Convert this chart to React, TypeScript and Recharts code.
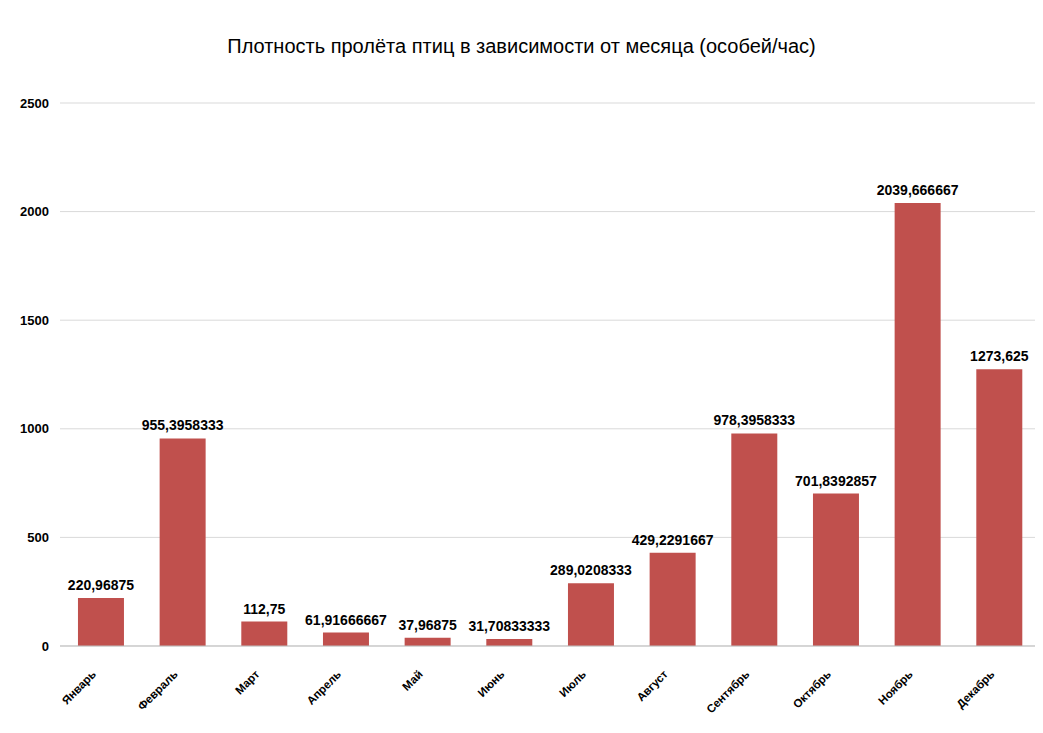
import { BarChart, Bar, XAxis, YAxis, CartesianGrid, LabelList } from "recharts";

const months = [
  "Январь",
  "Февраль",
  "Март",
  "Апрель",
  "Май",
  "Июнь",
  "Июль",
  "Август",
  "Сентябрь",
  "Октябрь",
  "Ноябрь",
  "Декабрь",
];

const density = [
  220.96875, 955.3958333, 112.75, 61.91666667, 37.96875, 31.70833333,
  289.0208333, 429.2291667, 978.3958333, 701.8392857, 2039.666667, 1273.625,
];

const yTicks = [0, 500, 1000, 1500, 2000, 2500];

const data = months.map((m, i) => ({ month: m, value: density[i] }));

const font = "'Liberation Sans', 'DejaVu Sans', sans-serif";
const barColor = "#C0504D";

function MonthTick({ x, y, payload }: any) {
  return (
    <g transform={`translate(${x - 4},${y + 21})`}>
      <text
        textAnchor="end"
        transform="rotate(-45)"
        fontSize={11.5}
        fontWeight="bold"
        fontFamily={font}
        fill="#000"
      >
        {payload.value}
      </text>
    </g>
  );
}

export default function App() {
  return (
    <div
      style={{
        position: "relative",
        margin: -8,
        width: 1043,
        height: 733,
        background: "#fff",
        overflow: "hidden",
      }}
    >
      <div
        style={{
          position: "absolute",
          left: 6,
          top: 3,
          width: 1060,
          height: 760,
          border: "1px solid #D9D9D9",
        }}
      />
      <div
        style={{
          position: "absolute",
          left: 0,
          top: 35,
          width: 1043,
          textAlign: "center",
          fontFamily: font,
          fontSize: 20,
          color: "#000",
        }}
      >
        Плотность пролёта птиц в зависимости от месяца (особей/час)
      </div>
      <div style={{ position: "absolute", left: 0, top: 0 }}>
        <BarChart
          width={1043}
          height={733}
          data={data}
          margin={{ top: 103, right: 3, left: 0, bottom: 0 }}
          barCategoryGap="22%"
        >
          <CartesianGrid vertical={false} stroke="#D9D9D9" />
          <XAxis
            dataKey="month"
            height={87}
            tickLine={false}
            axisLine={{ stroke: "#BFBFBF" }}
            interval={0}
            tick={<MonthTick />}
          />
          <YAxis
            width={60}
            domain={[0, 2500]}
            ticks={yTicks}
            tickLine={false}
            axisLine={false}
            tickMargin={5}
            tick={{ fontSize: 13, fontWeight: "bold", fill: "#000", fontFamily: font }}
          />
          <Bar dataKey="value" fill={barColor} isAnimationActive={false}>
            <LabelList
              dataKey="value"
              position="top"
              offset={8}
              formatter={(v: any) => String(v).replace(".", ",")}
              style={{ fontSize: 14, fontWeight: "bold", fill: "#000", fontFamily: font }}
            />
          </Bar>
        </BarChart>
      </div>
    </div>
  );
}
